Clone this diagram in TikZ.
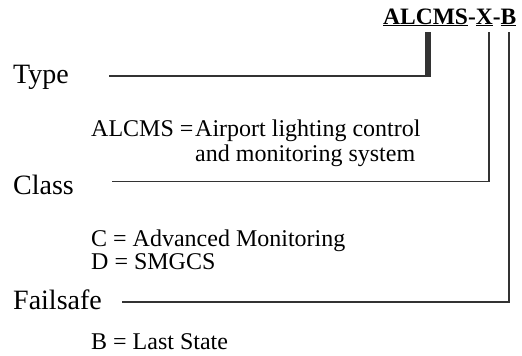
\documentclass[tikz,border=0pt]{standalone}
\usepackage{fontspec}
\setmainfont{Liberation Serif}
\usetikzlibrary{positioning}
\definecolor{lnGrey}{HTML}{333333}
\tikzset{
  conn/.style    = {lnGrey, line width=1.1pt},
  typebar/.style = {lnGrey, line width=5.5pt},
  ttl/.style     = {font=\bfseries\fontsize{23.5}{26}\selectfont, anchor=base west, inner sep=0pt},
  lbl/.style     = {font=\fontsize{28}{30}\selectfont, anchor=base west, inner sep=0pt},
  desc/.style    = {font=\fontsize{24}{25}\selectfont, anchor=base west, inner sep=0pt},
}

\begin{document}
\begin{tikzpicture}[x=1pt,y=-1pt]
  \useasboundingbox (0,0) rectangle (522,356);
  % designation
  \node[ttl] (code) at (383,24) {\underline{ALCMS}-\underline{X}-\underline{B}};
  % field labels
  \node[lbl] (typelbl)  at (13,83.5) {Type};
  \node[lbl] (classlbl) at (13,194)  {Class};
  \node[lbl] (faillbl)  at (13,309)  {Failsafe};
  % meanings
  \node[desc] (alcmskey) at (91,136)  {ALCMS =};
  \node[desc] (alcmsval) at (195,136) {Airport lighting control};
  \node[desc] (alcmsmore) at (195,161) {and monitoring system};
  \node[desc] (classc) at (91,246) {C = Advanced Monitoring};
  \node[desc] (classd) at (91,269) {D = SMGCS};
  \node[desc] (failb)  at (91,349) {B = Last State};
  % leader lines
  \coordinate (typeA)   at (109,76);
  \coordinate (typeB)   at (428,76);
  \coordinate (typeTop) at (428,32);
  \coordinate (classA)  at (112,181.5);
  \coordinate (xTop)    at (489,32);
  \coordinate (failA)   at (122,302);
  \coordinate (bTop)    at (509,32);
  \draw[conn] (typeA) -- ([xshift=2.7pt]typeB);
  \draw[typebar] ([yshift=0.55pt]typeB) -- (typeTop);
  \draw[conn] (classA) -| (xTop);
  \draw[conn] (failA) -| (bTop);
\end{tikzpicture}
\end{document}
